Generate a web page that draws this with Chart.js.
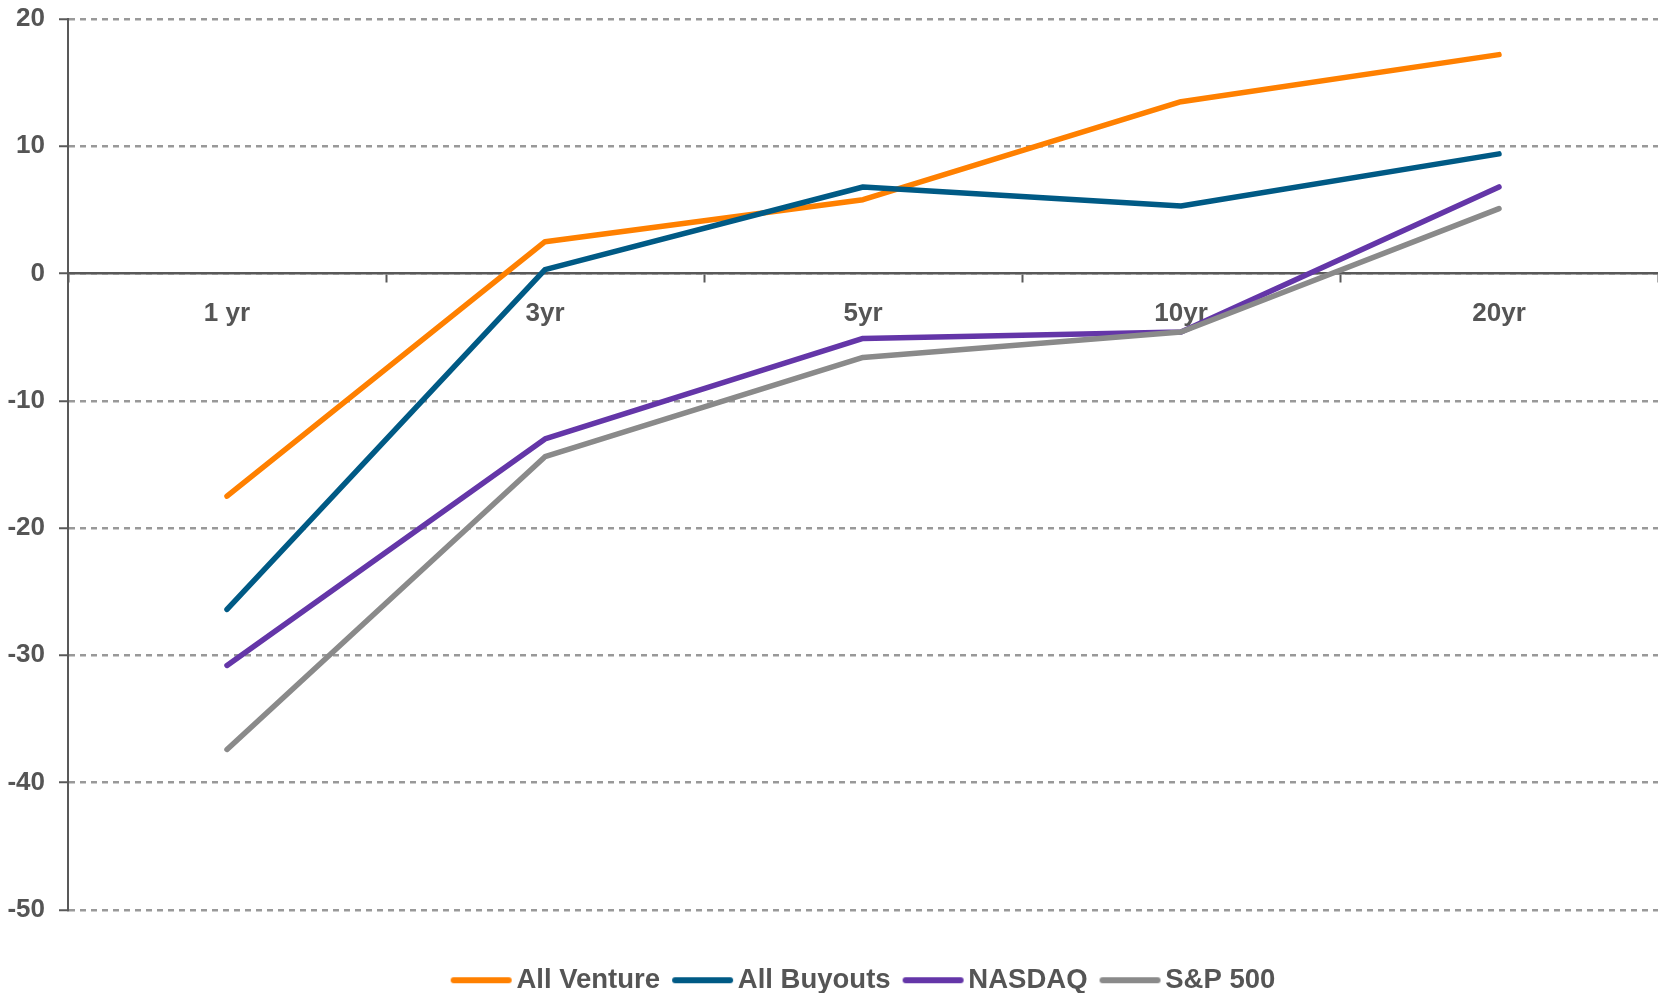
<!DOCTYPE html>
<html lang="en">
<head>
  <meta charset="UTF-8">
  <title>Returns by horizon</title>
  <script src="https://cdn.jsdelivr.net/npm/chart.js"></script>
  <style>
    body {
      margin: 0;
      overflow: hidden;
      background: #fff;
    }
    #wrap {
      width: 1658px;
      height: 1004px;
    }
  </style>
</head>
<body>

  <div id="wrap"><canvas id="returnChart"></canvas></div>

  <script>
    const horizons = ['1 yr', '3yr', '5yr', '10yr', '20yr'];
    const seriesNames = ['All Venture', 'All Buyouts', 'NASDAQ', 'S&P 500'];
    const ventureVals = [-17.5, 2.5, 5.8, 13.5, 17.2];
    const buyoutVals = [-26.4, 0.3, 6.8, 5.3, 9.4];
    const nasdaqVals = [-30.8, -13.0, -5.1, -4.6, 6.8];
    const spVals = [-37.4, -14.4, -6.6, -4.6, 5.1];
    const yTicks = [20, 10, 0, -10, -20, -30, -40, -50];

    const colors = ['#FF8000', '#005A85', '#6436A8', '#8A8A8A'];
    const allVals = [ventureVals, buyoutVals, nasdaqVals, spVals];
    const axisColor = '#595959';
    const textColor = '#555555';
    const tickFont = { family: 'Liberation Sans, Arial, sans-serif', size: 26, weight: 'bold' };

    // legend swatch: a short thick line, drawn a little left of the box centre
    function swatch(color) {
      const c = document.createElement('canvas');
      c.width = 80;
      c.height = 12;
      const g = c.getContext('2d');
      g.strokeStyle = color;
      g.lineWidth = 6;
      g.lineCap = 'round';
      g.beginPath();
      g.moveTo(17, 6);
      g.lineTo(72, 6);
      g.stroke();
      return c;
    }

    // later series sit on top of earlier ones
    const datasets = allVals.map((vals, i) => ({
      label: seriesNames[i],
      data: vals,
      borderColor: colors[i],
      backgroundColor: colors[i],
      borderWidth: 5.5,
      borderCapStyle: 'round',
      borderJoinStyle: 'round',
      pointRadius: 0,
      pointHoverRadius: 0,
      pointStyle: swatch(colors[i]),
      tension: 0,
      order: allVals.length - i
    }));

    const ctx = document.getElementById('returnChart').getContext('2d');
    new Chart(ctx, {
      type: 'line',
      data: { labels: horizons, datasets: datasets },
      options: {
        responsive: true,
        maintainAspectRatio: false,
        animation: false,
        layout: { padding: { top: 19, right: 0, left: 0, bottom: 0 } },
        scales: {
          x: {
            position: { y: 0 },
            offset: true,
            grid: {
              display: true,
              offset: true,
              drawOnChartArea: false,
              drawTicks: true,
              tickLength: 8,
              tickColor: axisColor,
              tickWidth: 2
            },
            border: { display: true, color: axisColor, width: 2.5 },
            ticks: {
              padding: 17,
              color: textColor,
              font: tickFont
            }
          },
          y: {
            min: -50,
            max: 20,
            afterFit: (scale) => {
              scale.width = 68;
              scale.paddingTop = 0;
              scale.paddingBottom = 0;
            },
            afterBuildTicks: (scale) => {
              scale.ticks = yTicks.map(v => ({ value: v }));
            },
            grid: {
              color: '#999999',
              lineWidth: 2.5,
              tickColor: axisColor,
              tickWidth: 2,
              tickLength: 9,
              tickBorderDash: []
            },
            border: { display: true, color: axisColor, width: 2, dash: [6, 5] },
            ticks: {
              padding: 14,
              color: textColor,
              font: tickFont
            }
          }
        },
        plugins: {
          tooltip: { enabled: false },
          legend: {
            position: 'bottom',
            fullSize: false,
            title: {
              display: true,
              text: '',
              font: { size: 10 },
              padding: { top: 32.75, bottom: 0 }
            },
            labels: {
              usePointStyle: true,
              pointStyleWidth: 52,
              padding: 12,
              color: textColor,
              font: { family: 'Liberation Sans, Arial, sans-serif', size: 27.5, weight: 'bold' },
              sort: (a, b) => a.datasetIndex - b.datasetIndex
            }
          }
        }
      }
    });
  </script>

</body>
</html>
